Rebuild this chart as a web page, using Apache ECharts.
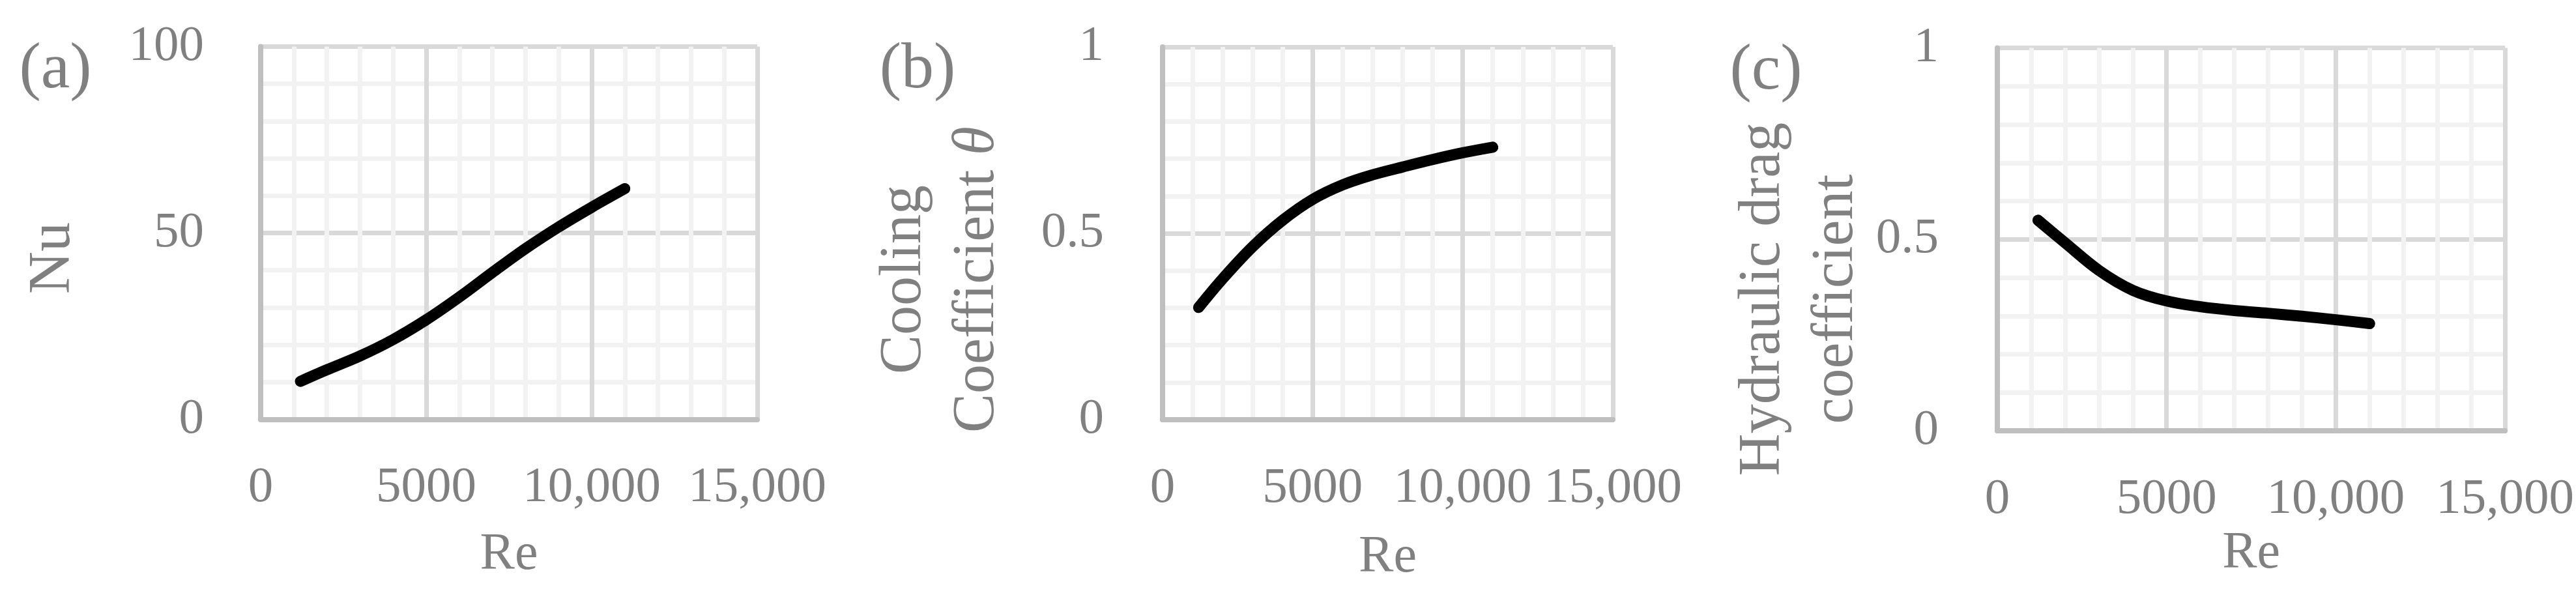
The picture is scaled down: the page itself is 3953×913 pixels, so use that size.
<!DOCTYPE html>
<html>
<head>
<meta charset="utf-8">
<style>
  html, body { margin: 0; padding: 0; background: #ffffff; }
  #chart { width: 3953px; height: 913px; }
</style>
<script src="https://cdn.jsdelivr.net/npm/echarts@6/dist/echarts.min.js"></script>
</head>
<body>
<div id="chart"></div>
<script>
// ---- data ----
const reValues = [1200, 2000, 3000, 4000, 5000, 6000, 7000, 8000, 9000, 10000, 11000];
const nuValues = [10.2, 13.3, 17.0, 21.4, 26.7, 32.8, 39.4, 45.8, 51.6, 56.9, 61.9];
const coolingValues = [0.301, 0.378, 0.464, 0.535, 0.591, 0.630, 0.657, 0.678, 0.698, 0.716, 0.731];
const dragValues = [0.550, 0.491, 0.419, 0.367, 0.339, 0.324, 0.314, 0.307, 0.299, 0.290, 0.280];

const xTickValues = [0, 5000, 10000, 15000];
const xTickLabels = ['0', '5000', '10,000', '15,000'];
const nuTickValues = [0, 50, 100];
const nuTickLabels = ['0', '50', '100'];
const unitTickValues = [0, 0.5, 1];
const unitTickLabels = ['0', '0.5', '1'];

const panelLabels = ['(a)', '(b)', '(c)'];
const xTitle = 'Re';

// ---- styles ----
const FONT = '"Liberation Serif", "DejaVu Serif", serif';
const TXT = '#808080';

function labelMap(vals, labels) {
  return function (v) {
    for (let i = 0; i < vals.length; i++) {
      if (Math.abs(vals[i] - v) < 1e-9) return labels[i];
    }
    return '';
  };
}

function xAxisCfg(gridIndex, nameGap) {
  return {
    type: 'value', gridIndex: gridIndex, min: 0, max: 15000, interval: 5000,
    name: xTitle, nameLocation: 'middle', nameGap: nameGap,
    nameTextStyle: { color: TXT, fontFamily: FONT, fontSize: 80, lineHeight: 80 },
    axisLine: { show: true, lineStyle: { color: '#bfbfbf', width: 8 } },
    axisTick: { show: false },
    axisLabel: { show: true, margin: 67, color: TXT, fontFamily: FONT, fontSize: 77, lineHeight: 77,
                 showMinLabel: true, showMaxLabel: true, formatter: labelMap(xTickValues, xTickLabels) },
    splitLine: { show: true, lineStyle: { color: '#d9d9d9', width: 7 } },
    minorTick: { show: false, splitNumber: 5 },
    minorSplitLine: { show: true, lineStyle: { color: '#f2f2f2', width: 7 } }
  };
}

function yAxisCfg(gridIndex, max, interval, vals, labels, margin) {
  return {
    type: 'value', gridIndex: gridIndex, min: 0, max: max, interval: interval,
    axisLine: { show: true, lineStyle: { color: '#bfbfbf', width: 8 } },
    axisTick: { show: false },
    axisLabel: { show: true, margin: margin, color: TXT, fontFamily: FONT, fontSize: 77,
                 showMinLabel: true, showMaxLabel: true, formatter: labelMap(vals, labels) },
    splitLine: { show: true, lineStyle: { color: '#d9d9d9', width: 7 } },
    minorTick: { show: false, splitNumber: 5 },
    minorSplitLine: { show: true, lineStyle: { color: '#f2f2f2', width: 7 } }
  };
}

function lineSeries(idx, ys) {
  return {
    type: 'line', xAxisIndex: idx, yAxisIndex: idx,
    data: reValues.map((x, i) => [x, ys[i]]),
    smooth: 0.35, showSymbol: false, symbol: 'none',
    lineStyle: { color: '#000000', width: 17, cap: 'round', join: 'round' },
    z: 10
  };
}

function textEl(x, y, text, size, rotate) {
  return {
    type: 'text', x: x, y: y, rotation: rotate ? Math.PI / 2 : 0,
    style: { text: text, fill: TXT, font: size + 'px ' + FONT, align: 'center', verticalAlign: 'middle',
             lineHeight: 112 }
  };
}

const chart = echarts.init(document.getElementById('chart'), null, { renderer: 'canvas' });

const option = {
  animation: false,
  backgroundColor: '#ffffff',
  grid: [
    { left: 400, top: 71.5, width: 762, height: 572, containLabel: false },
    { left: 1784, top: 72, width: 691, height: 572, containLabel: false },
    { left: 3065, top: 73.5, width: 780, height: 587.5, containLabel: false }
  ],
  xAxis: [xAxisCfg(0, 168), xAxisCfg(1, 172), xAxisCfg(2, 148)],
  yAxis: [
    yAxisCfg(0, 100, 50, nuTickValues, nuTickLabels, 87),
    yAxisCfg(1, 1, 0.5, unitTickValues, unitTickLabels, 90),
    yAxisCfg(2, 1, 0.5, unitTickValues, unitTickLabels, 90)
  ],
  series: [lineSeries(0, nuValues), lineSeries(1, coolingValues), lineSeries(2, dragValues)],
  graphic: [
    textEl(85, 108, panelLabels[0], 100, false),
    textEl(1408, 108, panelLabels[1], 100, false),
    textEl(2710, 110, panelLabels[2], 100, false),
    textEl(82, 396, 'Nu', 90, true),
    {
      type: 'text', x: 1444, y: 429, rotation: Math.PI / 2,
      style: {
        text: '{r|Cooling}\n{r|Coefficient }{i|θ}',
        fill: TXT, align: 'center', verticalAlign: 'middle',
        rich: {
          r: { fontFamily: FONT, fontSize: 90, lineHeight: 112, fill: TXT, color: TXT },
          i: { fontFamily: FONT, fontSize: 90, lineHeight: 112, fontStyle: 'italic', fill: TXT, color: TXT }
        }
      }
    },
    textEl(2762, 459, 'Hydraulic drag\ncoefficient', 90, true)
  ]
};

chart.setOption(option);
</script>
</body>
</html>
